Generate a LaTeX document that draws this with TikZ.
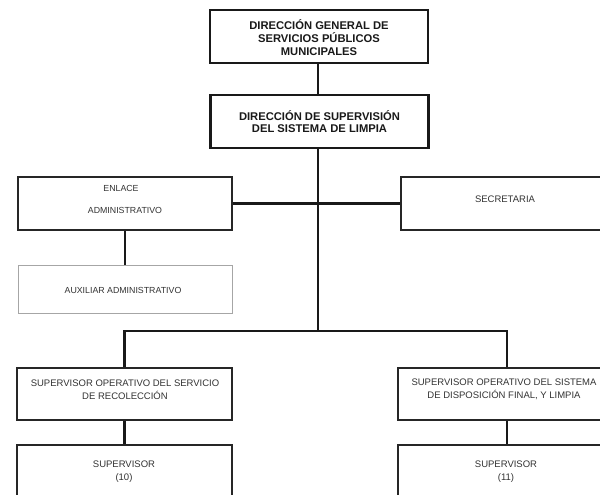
\documentclass[tikz,border=0pt]{standalone}
\usepackage{fontspec}
\setmainfont{Liberation Sans}
\begin{document}
\begin{tikzpicture}[x=1pt,y=-1pt,
  box/.style={draw=black!85,line width=1.5pt,minimum width=#1,inner sep=0pt},
  bigbox/.style={draw=black!90,line width=2.4pt,minimum width=218pt,minimum height=53pt,inner sep=0pt},
  faintbox/.style={draw=black!35,line width=0.8pt,minimum width=214pt,minimum height=48pt,inner sep=0pt},
  conn/.style={draw=black!90,line width=2.6pt},
  bigtxt/.style={font=\fontsize{11.2}{12.7}\selectfont\bfseries,align=center,text=black!90,inner sep=0pt},
  smtxt/.style={font=\fontsize{8.8}{10}\selectfont,align=center,text=black!80,inner sep=0pt},
  midtxt/.style={font=\fontsize{9.5}{12.5}\selectfont,align=center,text=black!80,inner sep=0pt}
]
\useasboundingbox[fill=white] (0,0) rectangle (600,495);
% boxes
\node[bigbox] (dg) at (319,36.5) {};
\node[bigbox] (ds) at (319.5,121.5) {};
\node[box=214pt,minimum height=53pt] (en) at (125,203.5) {};
\node[faintbox] (aux) at (125,289) {};
\node[box=209pt,minimum height=53pt] (sec) at (505.5,203.5) {};
\node[box=215pt,minimum height=52pt] (sol) at (124.5,394) {};
\node[box=212pt,minimum height=52pt] (sor) at (504,394) {};
\node[box=215pt,minimum height=65pt] (s10) at (124.5,477.5) {};
\node[box=212pt,minimum height=65pt] (s11) at (504,477.5) {};
% texts
\node[bigtxt] (dgt) at (319,37.5) {DIRECCIÓN GENERAL DE\\SERVICIOS PÚBLICOS\\MUNICIPALES};
\node[bigtxt] (dst) at (319.5,121.5) {DIRECCIÓN DE SUPERVISIÓN\\DEL SISTEMA DE LIMPIA};
\node[smtxt] (ent1) at (121,188) {ENLACE};
\node[smtxt] (ent2) at (125,210) {ADMINISTRATIVO};
\node[smtxt] (auxt) at (123,290) {AUXILIAR ADMINISTRATIVO};
\node[midtxt] (sect) at (505,199) {SECRETARIA};
\node[midtxt] (solt) at (125,389.5) {SUPERVISOR OPERATIVO DEL SERVICIO\\DE RECOLECCIÓN};
\node[midtxt] (sort) at (504,389.5) {SUPERVISOR OPERATIVO DEL SISTEMA\\DE DISPOSICIÓN FINAL, Y LIMPIA};
\node[midtxt] (s10t) at (124,471.5) {SUPERVISOR\\(10)};
\node[midtxt] (s11t) at (506,471.5) {SUPERVISOR\\(11)};
% connectors
\coordinate (j) at (318,331);
\coordinate (bl) at (124.5,331);
\coordinate (br) at (507,331);
\draw[conn] (dg.south -| j) -- (ds.north -| j);
\draw[conn] (ds.south -| j) -- (j);
\draw[conn] (en.east) -- (sec.west);
\draw[conn] (en.south) -- (aux.north);
\draw[conn] (sol.north -| bl) -- (bl) -- (br) -- (sor.north -| br);
\draw[conn] (sol.south) -- (s10.north);
\draw[conn] (sor.south -| br) -- (s11.north -| br);
\end{tikzpicture}
\end{document}
